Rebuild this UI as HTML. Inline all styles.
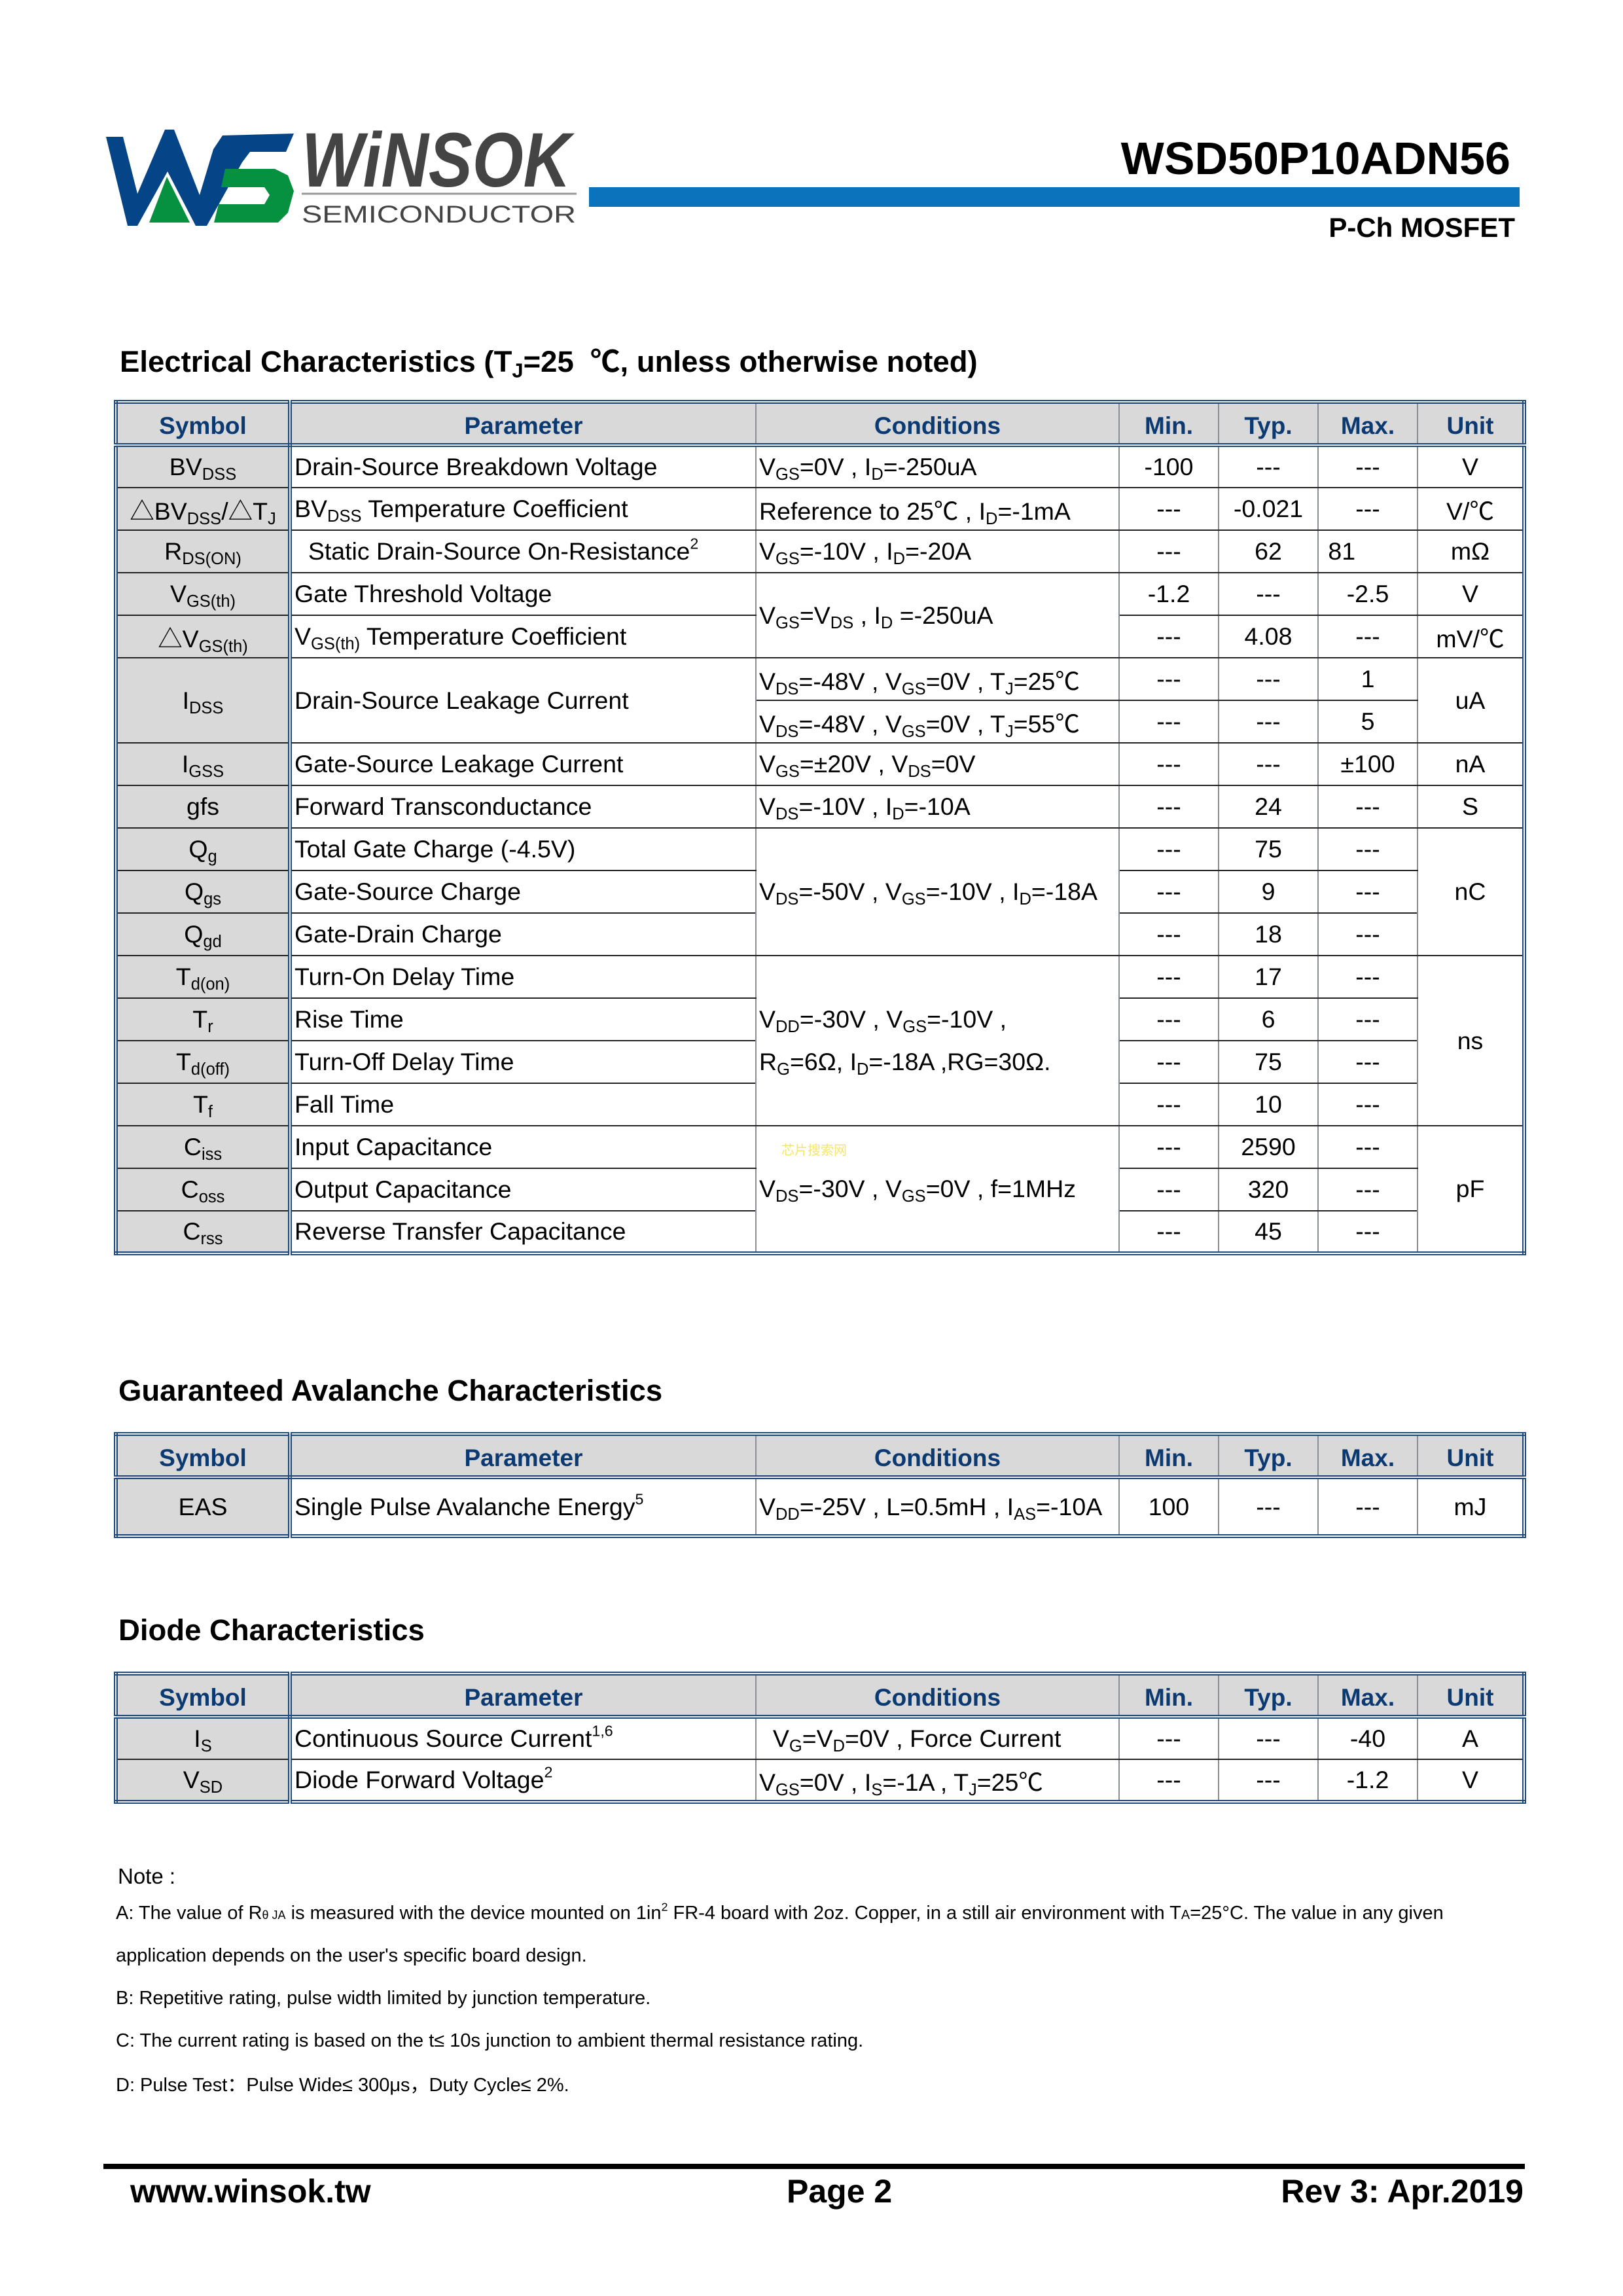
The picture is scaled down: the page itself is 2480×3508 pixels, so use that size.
<!DOCTYPE html>
<html><head><meta charset="utf-8">
<style>
*{margin:0;padding:0;box-sizing:border-box}
body{width:2480px;height:3508px;background:#fff;position:relative;font-family:"Liberation Sans","Noto Sans CJK SC",sans-serif;color:#000;overflow:hidden}
.abs{position:absolute;white-space:nowrap}
table{position:absolute;left:174px;width:2152px;border-collapse:collapse;table-layout:fixed;font-size:37.5px;border:6px double #1f4a7e}
td,th{border-left:2px solid #8a8f96;border-right:2px solid #8a8f96;border-top:2px solid #222;border-bottom:2px solid #222;padding:0 4px;white-space:nowrap;overflow:visible}
th{background:#d9d9d9;color:#0b3a73;font-weight:bold;font-size:37px;height:66px;border-bottom:6px double #1f4a7e;border-top:none;text-align:center;padding-top:8px}
td.s{background:#d9d9d9;text-align:center;border-right:6px double #1f4a7e}
th.s{border-right:6px double #1f4a7e}
td.c{text-align:center}
tr{height:65px}
sub{font-size:0.68em;vertical-align:-0.28em;line-height:0}
sup{font-size:0.62em;vertical-align:0.7em;line-height:0}
.h{font-weight:bold;font-size:45.5px}
</style></head><body>

<svg class="abs" style="left:0;top:0" width="2480" height="400">
<polygon fill="#054587" points="162,209 188,209 210,296 252,198 266,198 305,298 326,228 340,207 449,204 437,232 382,232 370,248 316,345 299,345 256,262 210,345 195,345"/>
<polygon fill="#05913f" points="228,340 255,270 290,340"/>
<polygon fill="#05913f" points="344,258 420,258 440,268 449,292 440,325 425,340 327,340 334,312 404,312 412,298 404,286 338,286"/>
<rect x="900" y="286" width="1422" height="30" fill="#0a73bb"/>
<line x1="461" y1="296" x2="881" y2="296" stroke="#999" stroke-width="3"/>
<text x="461" y="285" font-family="Liberation Sans" font-weight="bold" font-style="italic" font-size="118" fill="#444" textLength="411" lengthAdjust="spacingAndGlyphs">WiNSOK</text>
<text x="461" y="340" font-family="Liberation Sans" font-size="37" fill="#444" textLength="419" lengthAdjust="spacingAndGlyphs">SEMICONDUCTOR</text>
</svg>

<div class="abs" style="right:172px;top:202px;font-size:70px;font-weight:bold">WSD50P10ADN56</div>
<div class="abs" style="right:165px;top:324px;font-size:42px;font-weight:bold">P-Ch MOSFET</div>

<div class="abs h" style="left:183px;top:516px">Electrical Characteristics (T<sub>J</sub>=25 &nbsp;℃, unless otherwise noted)</div>

<table style="top:611px">
<colgroup><col style="width:266px"><col style="width:712px"><col style="width:555px"><col style="width:152px"><col style="width:152px"><col style="width:152px"><col style="width:163px"></colgroup>
<tr><th class="s">Symbol</th><th>Parameter</th><th>Conditions</th><th>Min.</th><th>Typ.</th><th>Max.</th><th>Unit</th></tr>
<tr><td class="s">BV<sub>DSS</sub></td><td>Drain-Source Breakdown Voltage</td><td>V<sub>GS</sub>=0V , I<sub>D</sub>=-250uA</td><td class="c">-100</td><td class="c">---</td><td class="c">---</td><td class="c">V</td></tr>
<tr><td class="s">△BV<sub>DSS</sub>/△T<sub>J</sub></td><td>BV<sub>DSS</sub> Temperature Coefficient</td><td>Reference to 25℃ , I<sub>D</sub>=-1mA</td><td class="c">---</td><td class="c">-0.021</td><td class="c">---</td><td class="c">V/℃</td></tr>
<tr><td class="s">R<sub>DS(ON)</sub></td><td>&nbsp;&nbsp;Static Drain-Source On-Resistance<sup>2</sup></td><td>V<sub>GS</sub>=-10V , I<sub>D</sub>=-20A</td><td class="c">---</td><td class="c">62</td><td>&nbsp;81</td><td class="c">mΩ</td></tr>
<tr><td class="s">V<sub>GS(th)</sub></td><td>Gate Threshold Voltage</td><td rowspan="2">V<sub>GS</sub>=V<sub>DS</sub> , I<sub>D</sub> =-250uA</td><td class="c">-1.2</td><td class="c">---</td><td class="c">-2.5</td><td class="c">V</td></tr>
<tr><td class="s">△V<sub>GS(th)</sub></td><td>V<sub>GS(th)</sub> Temperature Coefficient</td><td class="c">---</td><td class="c">4.08</td><td class="c">---</td><td class="c">mV/℃</td></tr>
<tr><td class="s" rowspan="2">I<sub>DSS</sub></td><td rowspan="2">Drain-Source Leakage Current</td><td>V<sub>DS</sub>=-48V , V<sub>GS</sub>=0V , T<sub>J</sub>=25℃</td><td class="c">---</td><td class="c">---</td><td class="c">1</td><td class="c" rowspan="2">uA</td></tr>
<tr><td>V<sub>DS</sub>=-48V , V<sub>GS</sub>=0V , T<sub>J</sub>=55℃</td><td class="c">---</td><td class="c">---</td><td class="c">5</td></tr>
<tr><td class="s">I<sub>GSS</sub></td><td>Gate-Source Leakage Current</td><td>V<sub>GS</sub>=±20V , V<sub>DS</sub>=0V</td><td class="c">---</td><td class="c">---</td><td class="c">±100</td><td class="c">nA</td></tr>
<tr><td class="s">gfs</td><td>Forward Transconductance</td><td>V<sub>DS</sub>=-10V , I<sub>D</sub>=-10A</td><td class="c">---</td><td class="c">24</td><td class="c">---</td><td class="c">S</td></tr>
<tr><td class="s">Q<sub>g</sub></td><td>Total Gate Charge (-4.5V)</td><td rowspan="3">V<sub>DS</sub>=-50V , V<sub>GS</sub>=-10V , I<sub>D</sub>=-18A</td><td class="c">---</td><td class="c">75</td><td class="c">---</td><td class="c" rowspan="3">nC</td></tr>
<tr><td class="s">Q<sub>gs</sub></td><td>Gate-Source Charge</td><td class="c">---</td><td class="c">9</td><td class="c">---</td></tr>
<tr><td class="s">Q<sub>gd</sub></td><td>Gate-Drain Charge</td><td class="c">---</td><td class="c">18</td><td class="c">---</td></tr>
<tr><td class="s">T<sub>d(on)</sub></td><td>Turn-On Delay Time</td><td rowspan="4" style="line-height:65px">V<sub>DD</sub>=-30V , V<sub>GS</sub>=-10V ,<br>R<sub>G</sub>=6Ω, I<sub>D</sub>=-18A ,RG=30Ω.</td><td class="c">---</td><td class="c">17</td><td class="c">---</td><td class="c" rowspan="4">ns</td></tr>
<tr><td class="s">T<sub>r</sub></td><td>Rise Time</td><td class="c">---</td><td class="c">6</td><td class="c">---</td></tr>
<tr><td class="s">T<sub>d(off)</sub></td><td>Turn-Off Delay Time</td><td class="c">---</td><td class="c">75</td><td class="c">---</td></tr>
<tr><td class="s">T<sub>f</sub></td><td>Fall Time</td><td class="c">---</td><td class="c">10</td><td class="c">---</td></tr>
<tr><td class="s">C<sub>iss</sub></td><td>Input Capacitance</td><td rowspan="3" style="position:relative">V<sub>DS</sub>=-30V , V<sub>GS</sub>=0V , f=1MHz<span style="position:absolute;left:38px;top:20px;font-size:20px;color:#f5e66a">芯片搜索网</span></td><td class="c">---</td><td class="c">2590</td><td class="c">---</td><td class="c" rowspan="3">pF</td></tr>
<tr><td class="s">C<sub>oss</sub></td><td>Output Capacitance</td><td class="c">---</td><td class="c">320</td><td class="c">---</td></tr>
<tr><td class="s">C<sub>rss</sub></td><td>Reverse Transfer Capacitance</td><td class="c">---</td><td class="c">45</td><td class="c">---</td></tr>
</table>

<div class="abs h" style="left:181px;top:2099px">Guaranteed Avalanche Characteristics</div>
<table style="top:2188px">
<colgroup><col style="width:266px"><col style="width:712px"><col style="width:555px"><col style="width:152px"><col style="width:152px"><col style="width:152px"><col style="width:163px"></colgroup>
<tr><th class="s">Symbol</th><th>Parameter</th><th>Conditions</th><th>Min.</th><th>Typ.</th><th>Max.</th><th>Unit</th></tr>
<tr style="height:90px"><td class="s">EAS</td><td>Single Pulse Avalanche Energy<sup>5</sup></td><td>V<sub>DD</sub>=-25V , L=0.5mH , I<sub>AS</sub>=-10A</td><td class="c">100</td><td class="c">---</td><td class="c">---</td><td class="c">mJ</td></tr>
</table>

<div class="abs h" style="left:181px;top:2465px">Diode Characteristics</div>
<table style="top:2554px">
<colgroup><col style="width:266px"><col style="width:712px"><col style="width:555px"><col style="width:152px"><col style="width:152px"><col style="width:152px"><col style="width:163px"></colgroup>
<tr><th class="s">Symbol</th><th>Parameter</th><th>Conditions</th><th>Min.</th><th>Typ.</th><th>Max.</th><th>Unit</th></tr>
<tr><td class="s">I<sub>S</sub></td><td>Continuous Source Current<sup>1,6</sup></td><td>&nbsp;&nbsp;V<sub>G</sub>=V<sub>D</sub>=0V , Force Current</td><td class="c">---</td><td class="c">---</td><td class="c">-40</td><td class="c">A</td></tr>
<tr><td class="s">V<sub>SD</sub></td><td>Diode Forward Voltage<sup>2</sup></td><td>V<sub>GS</sub>=0V , I<sub>S</sub>=-1A , T<sub>J</sub>=25℃</td><td class="c">---</td><td class="c">---</td><td class="c">-1.2</td><td class="c">V</td></tr>
</table>

<div class="abs" style="left:180px;top:2848px;font-size:33px">Note :</div>
<div class="abs" style="left:177px;top:2907px;font-size:29px">A: The value of R<span style="font-size:18px">θ JA</span> is measured with the device mounted on 1in<sup>2</sup> FR-4 board with 2oz. Copper, in a still air environment with T<span style="font-size:20px">A</span>=25°C. The value in any given</div>
<div class="abs" style="left:177px;top:2972px;font-size:29px">application depends on the user's specific board design.</div>
<div class="abs" style="left:177px;top:3037px;font-size:29px">B: Repetitive rating, pulse width limited by junction temperature.</div>
<div class="abs" style="left:177px;top:3102px;font-size:29px">C: The current rating is based on the t≤ 10s junction to ambient thermal resistance rating.</div>
<div class="abs" style="left:177px;top:3162px;font-size:29px">D: Pulse Test：Pulse Wide≤ 300μs，Duty Cycle≤ 2%.</div>

<div class="abs" style="left:158px;top:3306px;width:2172px;height:8px;background:#000"></div>
<div class="abs" style="left:199px;top:3319px;font-size:50px;font-weight:bold">www.winsok.tw</div>
<div class="abs" style="left:1202px;top:3319px;font-size:50px;font-weight:bold">Page 2</div>
<div class="abs" style="right:152px;top:3319px;font-size:50px;font-weight:bold">Rev 3: Apr.2019</div>
</body></html>
